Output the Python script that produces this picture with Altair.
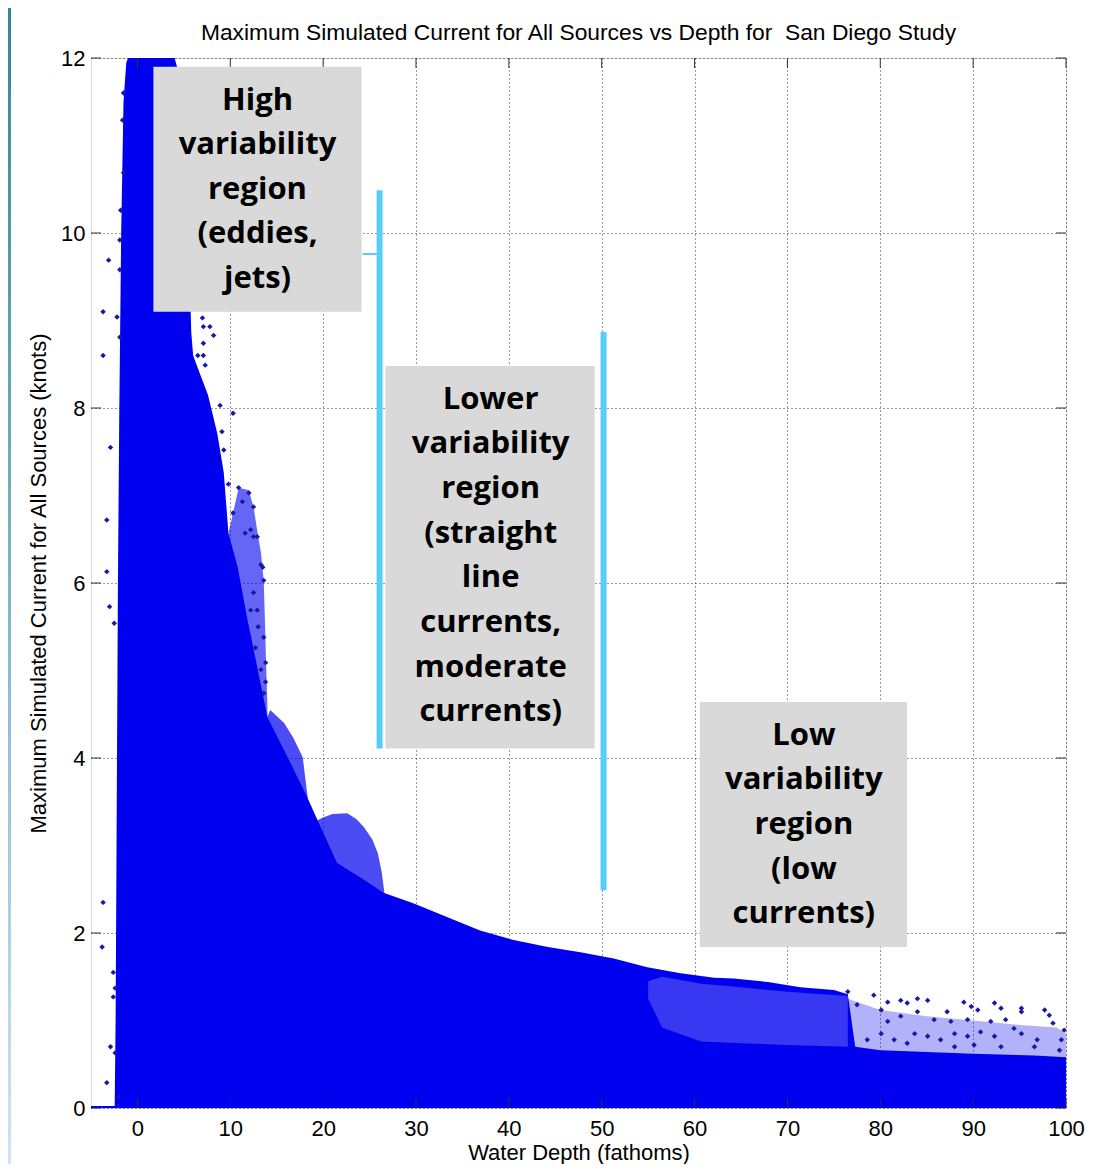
import altair as alt
import pandas as pd

TITLE = "Maximum Simulated Current for All Sources vs Depth for\u00a0 San Diego Study"
X_TITLE = "Water Depth (fathoms)"
Y_TITLE = "Maximum Simulated Current for All Sources (knots)"

x_ticks = [0, 10, 20, 30, 40, 50, 60, 70, 80, 90, 100]
y_ticks = [0, 2, 4, 6, 8, 10, 12]

# upper envelope of the dense (solid) cloud of simulated points
env_depth = [-2.45, -2.35, -2.25, -2.1, -1.95, -1.75, -1.5, -1.2, -1.0, 4.0, 4.4, 5.0, 5.4,
             5.7, 5.8, 6.0, 6.7, 7.6, 8.6, 9.3, 9.8, 10.8, 11.8, 12.9, 14.0, 16.5, 18.3, 19.4,
             21.5, 24.4, 26.5, 29.7, 33.4, 36.9, 40.5, 44.2, 47.7, 51.3, 54.9, 58.5, 62.1,
             64.2, 67.9, 71.4, 75.0, 76.5, 77.3, 80.0, 90.0, 96.6, 100.0]
env_current = [0.0, 1.0, 3.0, 6.0, 8.0, 10.0, 11.5, 11.95, 12.0, 12.0, 11.85, 11.3, 10.2,
               9.23, 8.86, 8.6, 8.4, 8.15, 7.71, 7.26, 6.57, 6.18, 5.61, 5.04, 4.47, 3.94, 3.55, 3.29,
               2.8, 2.61, 2.46, 2.34, 2.18, 2.03, 1.92, 1.84, 1.78, 1.71, 1.61, 1.54, 1.49,
               1.48, 1.44, 1.38, 1.35, 1.30, 0.70, 0.66, 0.62, 0.60, 0.58]

# porous clusters (bumps) above the dense edge
bump1_depth = [9.8, 10.3, 10.9, 12.0, 12.5, 12.9, 13.3, 13.6, 13.75, 13.85, 14.0]
bump1_current = [6.57, 6.8, 7.09, 7.06, 6.87, 6.6, 6.35, 6.03, 5.5, 5.1, 4.6]
bump2_depth = [14.0, 14.3, 15.8, 16.8, 17.8, 18.1, 18.4]
bump2_current = [4.47, 4.55, 4.40, 4.23, 4.01, 3.75, 3.5]
bump3_depth = [19.4, 20.0, 21.0, 22.6, 23.6, 24.4, 25.3, 25.9, 26.3, 26.6]
bump3_current = [3.29, 3.32, 3.36, 3.37, 3.3, 3.21, 3.07, 2.91, 2.7, 2.46]

# sparse region beyond ~77 fathoms
sparse_depth = [76.5, 80.0, 85.0, 90.0, 95.0, 99.0, 100.0]
sparse_current = [1.25, 1.12, 1.05, 1.0, 0.95, 0.92, 0.85]

# hatched (gappy) band between ~55 and ~77 fathoms
hatch_depth = [55.0, 56.5, 60.7, 65.0, 70.0, 76.5]
hatch_low = [1.25, 0.92, 0.76, 0.74, 0.72, 0.70]
hatch_high = [1.45, 1.50, 1.42, 1.38, 1.33, 1.28]

# row of zero-current points at negative depths
zero_depth = [-5.0, -2.4]
zero_current = [0.0, 0.0]

# individual outlying points
pts_depth = [
    -1.5, -1.6, -1.5, -1.8, -1.9, -3.1, -1.9, -3.7, -2.2, -1.9, -3.7, -2.9, -3.3, -3.3, -3.0, -2.5,
    -3.7, -3.8, -2.6, -2.4, -2.6, -2.9, -2.4, -3.3, -2.0,
    7.0, 7.1, 7.8, 8.2, 7.1, 7.1, 6.5, 7.3, 8.9, 10.3, 9.1, 9.3, 9.8,
    10.9, 12.0, 12.5, 12.2, 12.9, 13.3, 13.6, 12.9, 13.6, 13.8, 13.8, 11.3, 10.3, 11.6, 12.5, 13.5,
    12.5, 12.2, 13.0, 12.7, 13.3, 13.6,
    76.5, 79.3, 77.5, 80.8, 82.2, 82.9, 84.0, 85.1, 80.1, 87.2, 89.0, 89.8, 90.5, 92.3, 93.0, 95.2,
    95.2, 97.7, 98.2, 98.6, 93.5, 91.9, 89.4, 87.6, 85.8, 84.0, 82.2, 80.8, 99.8, 99.5, 96.9, 95.2,
    94.4, 92.3, 90.8, 89.4, 88.0, 86.5, 85.1, 83.7, 82.9, 81.5, 80.1, 78.6, 96.6, 93.0, 90.1, 88.0,
    99.3]
pts_current = [
    11.6, 11.29, 10.69, 10.26, 9.92, 9.69, 9.58, 9.1, 9.04, 8.81, 8.6, 7.55, 6.72, 6.13, 5.73, 5.54,
    2.35, 1.84, 1.55, 1.37, 1.27, 0.70, 0.63, 0.29, 0.13,
    9.03, 8.93, 8.93, 8.83, 8.74, 8.6, 8.6, 8.49, 8.03, 7.94, 7.73, 7.52, 7.13,
    7.09, 7.03, 6.87, 6.61, 6.53, 6.21, 6.03, 5.69, 5.38, 5.09, 4.87, 6.93, 6.8, 6.57, 6.53, 6.18,
    5.89, 5.69, 5.5, 5.26, 5.01, 4.74,
    1.33, 1.29, 1.18, 1.21, 1.23, 1.20, 1.25, 1.23, 1.12, 1.10, 1.21, 1.16, 1.12, 1.20, 1.14, 1.14,
    1.10, 1.12, 1.06, 0.97, 1.01, 0.99, 1.01, 0.99, 1.01, 1.10, 1.05, 0.99, 0.89, 0.78, 0.78, 0.85,
    0.91, 0.82, 0.87, 0.82, 0.85, 0.78, 0.82, 0.85, 0.74, 0.78, 0.85, 0.78, 0.70, 0.70, 0.72, 0.70,
    0.66]

# annotation boxes (data coordinates)
box_x1 = [1.72, 26.72, 60.56]
box_x2 = [24.14, 49.25, 82.87]
box_y1 = [11.90, 8.48, 4.64]
box_y2 = [9.10, 4.11, 1.84]

label_lines = ["High", "variability", "region", "(eddies,", "jets)",
               "Lower", "variability", "region", "(straight", "line", "currents,", "moderate", "currents)",
               "Low", "variability", "region", "(low", "currents)"]
label_x = [12.93] * 5 + [38.04] * 8 + [71.77] * 5
label_y = [11.51, 11.01, 10.49, 9.99, 9.47,
           8.09, 7.59, 7.07, 6.56, 6.06, 5.54, 5.03, 4.53,
           4.25, 3.75, 3.23, 2.72, 2.22]

# cyan bracket lines
vline_x = [26.08, 50.2]
vline_y1 = [10.49, 8.87]
vline_y2 = [4.11, 2.49]
hline_x1 = [24.25]
hline_x2 = [25.9]
hline_y = [9.76]

W, H = 975, 1050
BLUE = "#0000f0"
DARK = "#1818a8"
CYAN = "#56cdfb"
FONT = "Liberation Sans"

xs = alt.Scale(domain=[-5, 100], nice=False, zero=False)
ys = alt.Scale(domain=[0, 12], nice=False, zero=False)

x_axis = alt.Axis(values=x_ticks, grid=True, ticks=False, domain=False, labelFontSize=22,
                  labelFont=FONT, labelColor="#000", labelPadding=10, labelFlush=False,
                  format="d",
                  title=X_TITLE, titleFont=FONT, titleFontSize=22, titleFontWeight="normal",
                  titleColor="#000", titlePadding=3, gridDash=[1, 3], gridColor="#000",
                  gridOpacity=0.8)
y_axis = alt.Axis(values=y_ticks, grid=True, ticks=False, domain=False, labelFontSize=22,
                  labelFont=FONT, labelColor="#000", labelPadding=6, format="d",
                  title=Y_TITLE, titleFont=FONT, titleFontSize=22, titleFontWeight="normal",
                  titleColor="#000", titlePadding=10, gridDash=[1, 3], gridColor="#000",
                  gridOpacity=0.8)

env_df = pd.DataFrame({"depth": env_depth, "current": env_current})
base = alt.Chart(env_df).mark_area(color=BLUE, clip=True).encode(
    x=alt.X("depth:Q", scale=xs, axis=x_axis),
    y=alt.Y("current:Q", scale=ys, axis=y_axis, stack=None),
)

def area_layer(d, c, op, color=BLUE):
    df = pd.DataFrame({"depth": d, "current": c})
    return alt.Chart(df).mark_area(color=color, opacity=op, clip=True).encode(
        x=alt.X("depth:Q", scale=xs), y=alt.Y("current:Q", scale=ys, stack=None))

bump1 = area_layer(bump1_depth, bump1_current, 0.6)
bump2 = area_layer(bump2_depth, bump2_current, 0.7)
bump3 = area_layer(bump3_depth, bump3_current, 0.7)
sparse = area_layer(sparse_depth, sparse_current, 0.3)

hatch_df = pd.DataFrame({"depth": hatch_depth, "lo": hatch_low, "hi": hatch_high})
hatch = alt.Chart(hatch_df).mark_area(color="#ffffff", opacity=0.22, clip=True).encode(
    x=alt.X("depth:Q", scale=xs), y=alt.Y("hi:Q", scale=ys), y2="lo:Q")

zero_df = pd.DataFrame({"depth": zero_depth, "current": zero_current})
zero_line = alt.Chart(zero_df).mark_line(color=BLUE, strokeWidth=4, clip=True).encode(
    x=alt.X("depth:Q", scale=xs), y=alt.Y("current:Q", scale=ys))

pts_df = pd.DataFrame({"depth": pts_depth, "current": pts_current})
points = alt.Chart(pts_df).mark_point(shape="diamond", filled=True, size=30, color=DARK,
                                      opacity=1, clip=True).encode(
    x=alt.X("depth:Q", scale=xs), y=alt.Y("current:Q", scale=ys))

# inward tick marks on all four sides
xt_df = pd.DataFrame({"t": x_ticks})
yt_df = pd.DataFrame({"t": y_ticks})
TC = "#333"
tick_b = alt.Chart(xt_df).mark_rule(color=TC, strokeWidth=1).encode(
    x=alt.X("t:Q", scale=xs), y=alt.value(H), y2=alt.value(H - 10))
tick_t = alt.Chart(xt_df).mark_rule(color=TC, strokeWidth=1).encode(
    x=alt.X("t:Q", scale=xs), y=alt.value(0), y2=alt.value(10))
tick_l = alt.Chart(yt_df).mark_rule(color=TC, strokeWidth=1).encode(
    y=alt.Y("t:Q", scale=ys), x=alt.value(0), x2=alt.value(10))
tick_r = alt.Chart(yt_df).mark_rule(color=TC, strokeWidth=1).encode(
    y=alt.Y("t:Q", scale=ys), x=alt.value(W), x2=alt.value(W - 10))

vl_df = pd.DataFrame({"x": vline_x, "y1": vline_y1, "y2": vline_y2})
vlines = alt.Chart(vl_df).mark_rule(color=CYAN, strokeWidth=6).encode(
    x=alt.X("x:Q", scale=xs), y=alt.Y("y1:Q", scale=ys), y2="y2:Q")
hl_df = pd.DataFrame({"x1": hline_x1, "x2": hline_x2, "y": hline_y})
hlines = alt.Chart(hl_df).mark_rule(color=CYAN, strokeWidth=2).encode(
    x=alt.X("x1:Q", scale=xs), x2="x2:Q", y=alt.Y("y:Q", scale=ys))

box_df = pd.DataFrame({"x1": box_x1, "x2": box_x2, "y1": box_y1, "y2": box_y2})
boxes = alt.Chart(box_df).mark_rect(color="#d9d9d9").encode(
    x=alt.X("x1:Q", scale=xs), x2="x2:Q", y=alt.Y("y1:Q", scale=ys), y2="y2:Q")

lab_df = pd.DataFrame({"x": label_x, "y": label_y, "text": label_lines})
labels = alt.Chart(lab_df).mark_text(font="Open Sans", fontWeight="bold", fontSize=31,
                                     color="#000", align="center", baseline="middle").encode(
    x=alt.X("x:Q", scale=xs), y=alt.Y("y:Q", scale=ys), text="text:N")

title_df = pd.DataFrame({"t": [TITLE]})
title = alt.Chart(title_df).mark_text(font=FONT, fontSize=22.8, color="#000", align="center",
                                      baseline="middle").encode(
    x=alt.value(W / 2), y=alt.value(-25), text="t:N")

stripe = alt.Chart(pd.DataFrame({"a": [0]})).mark_rect(
    color=alt.LinearGradient(gradient="linear",
                             stops=[alt.GradientStop(color="#2e8a95", offset=0),
                                    alt.GradientStop(color="#cfe2f8", offset=1)],
                             x1=0, x2=0, y1=0, y2=1)).encode(
    x=alt.value(-83), x2=alt.value(-80), y=alt.value(-50), y2=alt.value(H + 56))

chart = alt.layer(
    base, tick_b, tick_t, tick_l, tick_r, bump1, bump2, bump3, sparse, hatch, zero_line, points,
    vlines, hlines, boxes, labels, title, stripe
).properties(
    width=W, height=H,
    autosize=alt.AutoSizeParams(type="none"),
    padding={"left": 83, "top": 50, "right": 21, "bottom": 56},
).configure_view(stroke="#222", strokeWidth=1).configure(background="#ffffff")

chart.save("out.html", embed_options={"renderer": "svg", "actions": False})
